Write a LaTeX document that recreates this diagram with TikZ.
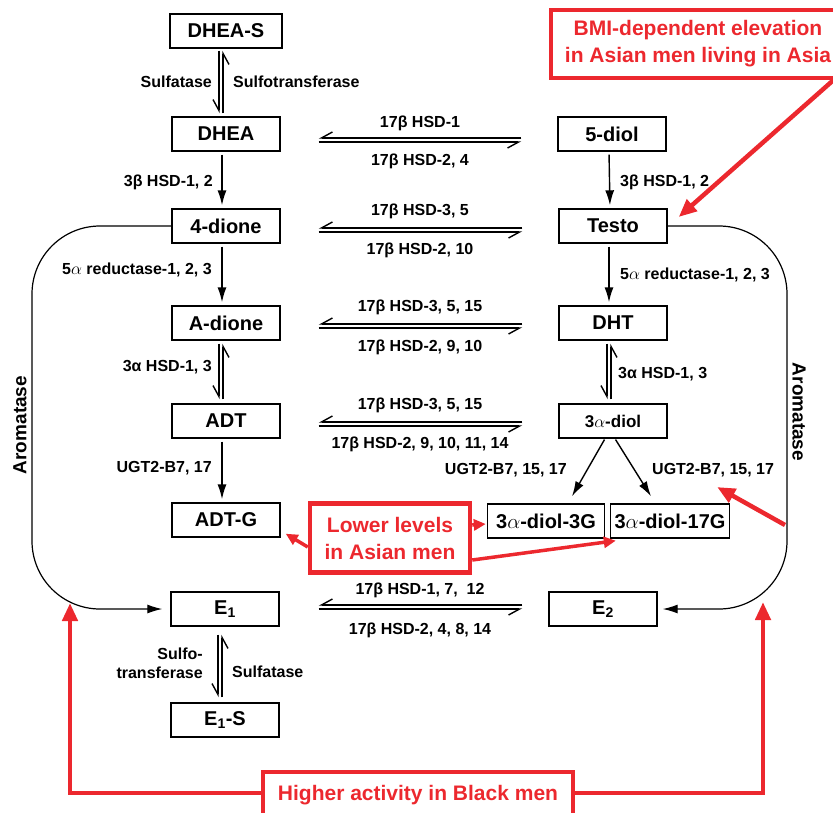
\documentclass[tikz,border=0pt]{standalone}
\usepackage{fontspec}
\setmainfont{Liberation Sans}
\usetikzlibrary{arrows.meta,calc}
\definecolor{ared}{RGB}{236,40,46}
\begin{document}
\begin{tikzpicture}[x=1pt,y=-1pt,
  box/.style={draw, line width=1.4pt, minimum width=108pt, minimum height=34pt, inner sep=0pt, font=\fontsize{20}{24}\selectfont\bfseries},
  lab/.style={inner sep=0pt, font=\fontsize{16}{19}\selectfont\bfseries},
  arr/.style={line width=1.4pt, -{Latex[length=15pt,width=9pt]}, shorten <=3pt, shorten >=3pt},
  hp/.style={line width=1.4pt, -{Straight Barb[right,length=11pt,width=12pt]}},
  arom/.style={line width=1.2pt, rounded corners=68pt, -{Latex[length=15pt,width=9pt]}},
  aromlab/.style={inner sep=0pt, font=\fontsize{19}{22}\selectfont\bfseries},
  redbox/.style={draw=ared, line width=4.5pt, inner sep=0pt, text=ared, align=center, font=\fontsize{21}{27}\selectfont\bfseries},
  redarr/.style={draw=ared, line width=4.5pt, -{Triangle[length=18pt,width=15pt]}},
  redsmall/.style={draw=ared, line width=3.5pt, -{Triangle[length=12pt,width=11pt]}},
]
\useasboundingbox (0,0) rectangle (833,812);
\clip (0,0) rectangle (833,812);

% boxes
\node[box, minimum width=112pt] (dheas) at (226,31) {DHEA-S};
\node[box] (dhea) at (226,134) {DHEA};
\node[box] (diol5) at (612,134) {5-diol};
\node[box] (dione) at (226,226) {4-dione};
\node[box] (testo) at (613,226) {Testo};
\node[box] (adione) at (226,323) {A-dione};
\node[box] (dht) at (613,323) {DHT};
\node[box] (adt) at (226,421) {ADT};
\node[box, font=\fontsize{17}{20}\selectfont\bfseries] (diol3) at (613,421) {3$\alpha$-diol};
\node[box] (adtg) at (226,520) {ADT-G};
\node[box, minimum width=117pt] (g3) at (546,521) {3$\alpha$-diol-3G};
\node[box, minimum width=119pt] (g17) at (670,521) {3$\alpha$-diol-17G};
\node[box] (e1) at (225,609) {E\textsubscript{1}};
\node[box] (e2) at (603,609) {E\textsubscript{2}};
\node[box] (e1s) at (225,720) {E\textsubscript{1}-S};

% vertical double harpoons
\draw[hp, shorten <=2pt, shorten >=3pt] ([xshift=-7pt]dheas.south) -- ([xshift=-7pt]dhea.north);
\draw[hp, shorten <=3pt, shorten >=2pt] ([xshift=-3pt]dhea.north) -- ([xshift=-3pt]dheas.south);
\draw[hp, shorten <=3pt, shorten >=4pt] ([xshift=-7pt]adione.south) -- ([xshift=-7pt]adt.north);
\draw[hp, shorten <=4pt, shorten >=3pt] ([xshift=-3pt]adt.north) -- ([xshift=-3pt]adione.south);
\draw[hp, shorten <=3pt, shorten >=4pt] ([xshift=-6pt]dht.south) -- ([xshift=-6pt]diol3.north);
\draw[hp, shorten <=4pt, shorten >=3pt] ([xshift=-2pt]diol3.north) -- ([xshift=-2pt]dht.south);
\draw[hp, shorten <=8pt, shorten >=5pt] ([xshift=-7pt]e1.south) -- ([xshift=-7pt]e1s.north);
\draw[hp, shorten <=5pt, shorten >=8pt] ([xshift=-3pt]e1s.north) -- ([xshift=-3pt]e1.south);

% vertical single arrows
\draw[arr] ([xshift=-4pt]dhea.south) -- ([xshift=-4pt]dione.north);
\draw[arr] ([xshift=-3pt]diol5.south) -- ([xshift=-3pt]testo.north);
\draw[arr] ([xshift=-4pt]dione.south) -- ([xshift=-4pt]adione.north);
\draw[arr] ([xshift=-4pt]testo.south) -- ([xshift=-4pt]dht.north);
\draw[arr] ([xshift=-4pt]adt.south) -- ([xshift=-4pt]adtg.north);
\draw[arr, shorten <=1pt, shorten >=0pt] ($(diol3.south)+(-8,0)$) -- ($(g3.north)+(26,-7)$);
\draw[arr, shorten <=1pt, shorten >=0pt] ($(diol3.south)+(2,0)$) -- ($(g17.north)+(-19,-7)$);

% horizontal double harpoons
\draw[hp, shorten <=36pt, shorten >=38pt] ([yshift=-4pt]diol5.west) -- ([yshift=-4pt]dhea.east);
\draw[hp, shorten <=38pt, shorten >=36pt] ([yshift=-8pt]dhea.east) -- ([yshift=-8pt]diol5.west);
\draw[hp, shorten <=36pt, shorten >=38pt] ([yshift=-2pt]testo.west) -- ([yshift=-2pt]dione.east);
\draw[hp, shorten <=38pt, shorten >=36pt] ([yshift=-6pt]dione.east) -- ([yshift=-6pt]testo.west);
\draw[hp, shorten <=36pt, shorten >=38pt] ([yshift=-1pt]dht.west) -- ([yshift=-1pt]adione.east);
\draw[hp, shorten <=38pt, shorten >=36pt] ([yshift=-5pt]adione.east) -- ([yshift=-5pt]dht.west);
\draw[hp, shorten <=36pt, shorten >=38pt] ([yshift=-1pt]diol3.west) -- ([yshift=-1pt]adt.east);
\draw[hp, shorten <=38pt, shorten >=36pt] ([yshift=-5pt]adt.east) -- ([yshift=-5pt]diol3.west);
\draw[hp, shorten <=26pt, shorten >=39pt] ([yshift=4pt]e2.west) -- ([yshift=4pt]e1.east);
\draw[hp, shorten <=39pt, shorten >=26pt] ([yshift=0pt]e1.east) -- ([yshift=0pt]e2.west);

% horizontal labels
\node[lab] (h1a) at (420,123) {17β HSD-1};
\node[lab] (h1b) at (420,161) {17β HSD-2, 4};
\node[lab] (h2a) at (420,211) {17β HSD-3, 5};
\node[lab] (h2b) at (420,250) {17β HSD-2, 10};
\node[lab] (h3a) at (420,307) {17β HSD-3, 5, 15};
\node[lab] (h3b) at (420,347) {17β HSD-2, 9, 10};
\node[lab] (h4a) at (420,405) {17β HSD-3, 5, 15};
\node[lab] (h4b) at (420,444) {17β HSD-2, 9, 10, 11, 14};
\node[lab] (h5a) at (420,590) {17β HSD-1, 7,\ \ 12};
\node[lab] (h5b) at (420,630) {17β HSD-2, 4, 8, 14};

% vertical labels
\node[lab, anchor=east] (v1a) at (212,82) {Sulfatase};
\node[lab, anchor=west] (v1b) at (233,82) {Sulfotransferase};
\node[lab, anchor=east] (v2a) at (213,182) {3β HSD-1, 2};
\node[lab, anchor=west] (v2b) at (620,182) {3β HSD-1, 2};
\node[lab, anchor=east] (v3a) at (212,270) {5$\alpha$ reductase-1, 2, 3};
\node[lab, anchor=west] (v3b) at (620,275) {5$\alpha$ reductase-1, 2, 3};
\node[lab, anchor=east] (v4a) at (212,367) {3α HSD-1, 3};
\node[lab, anchor=west] (v4b) at (618,374) {3α HSD-1, 3};
\node[lab, anchor=east] (v5a) at (212,468) {UGT2-B7, 17};
\node[lab, anchor=east] (ugtL) at (567,470) {UGT2-B7, 15, 17};
\node[lab, anchor=west] (ugtR) at (652,470) {UGT2-B7, 15, 17};
\node[lab, anchor=east, align=right] (v6a) at (203,663) {Sulfo-\\transferase};
\node[lab, anchor=west] (v6b) at (232,672) {Sulfatase};

% aromatase curves
\coordinate (lx) at (32,0);
\coordinate (rx) at (787,0);
\draw[arom] (dione.west) -- (dione.west -| lx) -- (e1.west -| lx) -- ([xshift=-8pt]e1.west);
\draw[arom] (testo.east) -- (testo.east -| rx) -- (e2.east -| rx) -- ([xshift=5pt]e2.east);
\node[aromlab, rotate=90] (aromL) at (20,425) {Aromatase};
\node[aromlab, rotate=-90] (aromR) at (799,412) {Aromatase};

% red annotations
\node[redbox, minimum width=294pt, minimum height=68pt] (bmi) at (698,44) {BMI-dependent elevation\\in Asian men living in Asia};
\draw[redarr] ($(bmi.south east)+(-14,0)$) -- ($(testo.east)+(11,-9)$);

\node[redbox, minimum width=160pt, minimum height=69pt] (lower) at (390,538) {Lower levels\\in Asian men};
\draw[redsmall] ($(lower.west)+(0,9)$) -- ($(adtg.south east)+(5,-4)$);
\draw[redsmall] ($(lower.east)+(0,-13)$) -- ($(g3.west)+(-1,3)$);
\draw[redsmall] ($(lower.east)+(0,22)$) -- ($(g17.south west)+(6,2)$);

\coordinate (aromR1) at (785,525);
\draw[redarr] (aromR1) -- ($(ugtR.south)+(4,10)$);

\node[redbox, minimum width=310pt, minimum height=46pt] (high) at (418,795) {Higher activity in Black men};
\coordinate (redL) at (70,603);
\coordinate (redR) at (763,602);
\draw[redarr] ([yshift=2pt]high.west) -| (redL);
\draw[redarr] ([yshift=2pt]high.east) -| (redR);
\end{tikzpicture}
\end{document}
